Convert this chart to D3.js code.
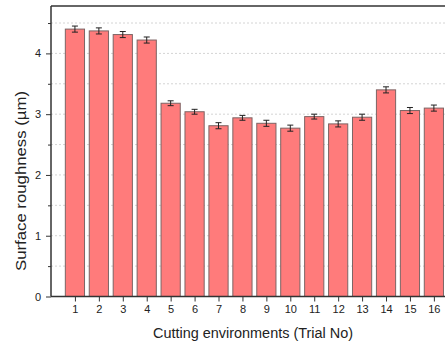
<!DOCTYPE html>
<html>
<head>
<meta charset="utf-8">
<script src="https://cdn.jsdelivr.net/npm/d3@7"></script>
<style>
  body { margin: 0; background: #fff; }
  svg { display: block; font-family: "Liberation Sans", Arial, sans-serif; }
</style>
</head>
<body>
<svg id="chart" width="445" height="345"></svg>
<script>
// trial numbers, mean roughness and error
const trials = [1, 2, 3, 4, 5, 6, 7, 8, 9, 10, 11, 12, 13, 14, 15, 16];
const roughness = [4.40, 4.37, 4.31, 4.22, 3.18, 3.04, 2.81, 2.94, 2.85, 2.77, 2.96, 2.84, 2.95, 3.40, 3.06, 3.10];
const errors = [0.05, 0.05, 0.05, 0.05, 0.04, 0.04, 0.05, 0.04, 0.05, 0.05, 0.04, 0.05, 0.05, 0.05, 0.05, 0.05];
const yTicks = [0, 1, 2, 3, 4];
const yMinor = [0.5, 1.5, 2.5, 3.5, 4.5];

const svg = d3.select("#chart");
const mLeft = 51, mTop = 6, mBottom = 296.5;

let x = d3.scaleLinear().domain([0, 17]).range([mLeft, mLeft + 17 * 23.93]);
let y = d3.scaleLinear().domain([0, 4.78]).range([mBottom, mTop]);
const bw = 19.2;

// grid
let grid = svg.append("g");
grid.selectAll("line")
  .data(yTicks.slice(1).concat(yMinor))
  .join("line")
  .attr("x1", mLeft).attr("x2", 445)
  .attr("y1", d => y(d)).attr("y2", d => y(d))
  .attr("stroke", "#d4d4d4")
  .attr("stroke-width", 1)
  .attr("stroke-dasharray", "2,2");

// bars
svg.append("g").selectAll("rect")
  .data(trials)
  .join("rect")
  .attr("x", (d) => x(d) - bw / 2)
  .attr("y", (d, i) => y(roughness[i]))
  .attr("width", bw)
  .attr("height", (d, i) => y(0) - y(roughness[i]))
  .attr("fill", "#ff7b7b")
  .attr("stroke", "#7d6464")
  .attr("stroke-width", 1);

// error bars
let eb = svg.append("g").attr("stroke", "#222").attr("stroke-width", 1);
trials.forEach((t, i) => {
  let cx = x(t), hi = y(roughness[i] + errors[i]), lo = y(roughness[i] - errors[i]);
  eb.append("line").attr("x1", cx).attr("x2", cx).attr("y1", hi).attr("y2", lo);
  eb.append("line").attr("x1", cx - 3).attr("x2", cx + 3).attr("y1", hi).attr("y2", hi);
  eb.append("line").attr("x1", cx - 3).attr("x2", cx + 3).attr("y1", lo).attr("y2", lo);
});

// axes
let yAxis = svg.append("g")
  .attr("transform", `translate(${mLeft},0)`)
  .call(d3.axisLeft(y).tickValues(yTicks).tickFormat(d3.format("d")).tickSize(5).tickPadding(5));
svg.append("g")
  .attr("transform", `translate(${mLeft},0)`)
  .call(d3.axisLeft(y).tickValues(yMinor).tickFormat("").tickSize(3))
  .select(".domain").remove();

let xAxis = svg.append("g")
  .attr("transform", `translate(0,${mBottom})`)
  .call(d3.axisBottom(x).tickValues(trials).tickFormat(d3.format("d")).tickSize(5).tickPadding(4));

svg.selectAll(".tick text").attr("font-size", 11).attr("fill", "#222").attr("font-family", "Liberation Sans, Arial, sans-serif");
svg.selectAll(".tick line").attr("stroke", "#333");
svg.selectAll(".domain").attr("stroke", "#333").attr("stroke-width", 1.5);
yAxis.select(".domain").attr("d", `M0,${mBottom}V${mTop}`);
xAxis.select(".domain").attr("d", `M${mLeft},0H445`);

// top border
svg.append("line")
  .attr("x1", mLeft).attr("x2", 445)
  .attr("y1", mTop).attr("y2", mTop)
  .attr("stroke", "#333").attr("stroke-width", 1.5);

// titles
svg.append("text")
  .attr("x", 253).attr("y", 338)
  .attr("text-anchor", "middle")
  .attr("font-size", 14).attr("fill", "#222")
  .attr("textLength", 200).attr("lengthAdjust", "spacingAndGlyphs")
  .text("Cutting environments (Trial No)");
svg.append("text")
  .attr("transform", `translate(26,181) rotate(-90)`)
  .attr("text-anchor", "middle")
  .attr("font-size", 14).attr("fill", "#222")
  .attr("textLength", 180).attr("lengthAdjust", "spacingAndGlyphs")
  .text("Surface roughness (µm)");
</script>
</body>
</html>
